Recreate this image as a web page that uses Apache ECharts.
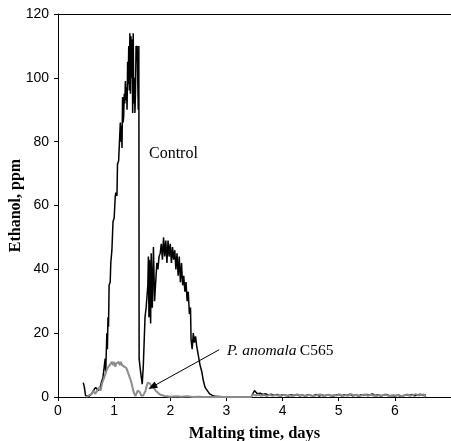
<!DOCTYPE html>
<html>
<head>
<meta charset="utf-8">
<script src="https://cdn.jsdelivr.net/npm/echarts@6/dist/echarts.min.js"></script>
<style>html,body{margin:0;padding:0;background:#fff}#c{width:451px;height:441px}</style>
</head>
<body>
<div id="c"></div>
<script>
// Malting time (days) vs ethanol (ppm)
var xTicks = [0, 1, 2, 3, 4, 5, 6];
var yTicks = [0, 20, 40, 60, 80, 100, 120];

var controlX = [0.45,0.47,0.49,0.52,0.56,0.60,0.63,0.66,0.67,0.69,0.72,0.75,0.78,0.80,0.82,0.84,0.85,0.87,0.88,0.89,0.90,0.91,0.93,0.94,0.96,0.98,1.00,1.02,1.03,1.05,1.06,1.08,1.10,1.11,1.12,1.13,1.14,1.15,1.16,1.17,1.18,1.19,1.20,1.21,1.22,1.23,1.24,1.25,1.26,1.27,1.28,1.29,1.30,1.31,1.32,1.33,1.34,1.35,1.36,1.37,1.38,1.39,1.40,1.41,1.42,1.43,1.44,1.445,1.47,1.50,1.52,1.55,1.57,1.60,1.61,1.62,1.63,1.65,1.66,1.68,1.70,1.72,1.74,1.76,1.78,1.80,1.82,1.84,1.86,1.88,1.90,1.92,1.94,1.96,1.98,2.00,2.02,2.04,2.06,2.08,2.10,2.12,2.14,2.16,2.18,2.20,2.22,2.24,2.26,2.28,2.30,2.32,2.34,2.36,2.37,2.39,2.41,2.43,2.45,2.47,2.50,2.53,2.56,2.59,2.62,2.66,2.70,2.75,2.80,3.00,3.20,3.44,3.45,3.50,3.55,3.60,3.65,3.70,3.75,3.80,3.85,3.90,3.95,4.00,4.05,4.10,4.15,4.20,4.25,4.30,4.35,4.40,4.45,4.50,4.55,4.60,4.65,4.70,4.75,4.80,4.85,4.90,4.95,5.00,5.05,5.10,5.15,5.20,5.25,5.30,5.35,5.40,5.45,5.50,5.55,5.60,5.65,5.70,5.75,5.80,5.85,5.90,5.95,6.00,6.05,6.10,6.15,6.20,6.25,6.30,6.35,6.40,6.45,6.50,6.55];
var controlY = [4.5,3,0.5,0,0.3,1,2,1.5,3,2.5,2,3,5,6,9,12,8,20,15,25,22,35,36,42,46,55,56,63,64,63,73,74,74,86,80,85,78,94,86,88,95,92,99,93,97,90,105,98,110,96,114,95,113,100,112,89,114,92,100,89,95,110,108,110,110,90,110,12,8,4,10,25,28,35,44,25,43,23,45,28,47,30,36,42,40,44,45,48,43,50,44,49,42,49,44,48,42,47,43,46,40,45,38,44,36,42,35,38,33,36,30,33,26,28,18,15,20,17,19,16,13,10,8,5,3,2,1,0.5,0.2,0,0,0,0,2,1,1.2,0.8,1,0.6,0.9,0.5,0.8,0.4,0.7,0.6,0.3,0.7,0.5,0.8,0.4,0.6,0.3,0.7,0.5,0.4,0.8,0.3,0.6,0.4,0.7,0.5,0.3,0.6,0.8,0.4,0.7,0.5,0.9,0.4,0.6,0.3,0.7,0.5,0.8,0.6,1,0.4,0.7,0.3,0.6,0.8,0.4,0.5,0.3,0.6,0.2,0.4,0.7,0.5,0.8,0.4,0.6,0.9,0.5,0.7,0];

var anomalaX = [0.50,0.55,0.60,0.63,0.66,0.70,0.73,0.76,0.78,0.80,0.82,0.84,0.86,0.88,0.90,0.92,0.94,0.96,0.98,1.00,1.02,1.04,1.06,1.08,1.10,1.12,1.14,1.16,1.18,1.20,1.22,1.24,1.26,1.28,1.30,1.32,1.34,1.36,1.38,1.40,1.42,1.44,1.46,1.48,1.50,1.52,1.54,1.56,1.58,1.60,1.62,1.64,1.66,1.68,1.70,1.72,1.74,1.76,1.80,1.84,1.90,1.95,2.00,2.10,2.20,2.30,2.40,2.50,2.60,2.80,3.00,3.20,3.44,3.47,3.52,3.57,3.62,3.67,3.72,3.77,3.82,3.87,3.92,3.97,4.02,4.07,4.12,4.17,4.22,4.27,4.32,4.37,4.42,4.47,4.52,4.57,4.62,4.67,4.72,4.77,4.82,4.87,4.92,4.97,5.02,5.07,5.12,5.17,5.22,5.27,5.32,5.37,5.42,5.47,5.52,5.57,5.62,5.67,5.72,5.77,5.82,5.87,5.92,5.97,6.02,6.07,6.12,6.17,6.22,6.27,6.32,6.37,6.42,6.47,6.52,6.55];
var anomalaY = [0,0.5,1,2,1,2,3,2,4,5,6,7,8,9,8.5,10,9.5,11,10,11,9.5,10.5,10,11,10,11,10,10.5,9.5,10,9,8.5,7,6,5,3.5,2,1,0.3,0.5,2,2.5,1.5,0.5,0.2,0.5,1,2,3.5,4.5,4,4.2,3.5,3.8,3,2.5,2,1.5,1,0.6,0.3,0.2,0.1,0.2,0.1,0.2,0,0.1,0,0,0,0,0,0.8,0.5,0.7,0.4,0.6,0.3,0.7,0.4,0.6,0.5,0.3,0.7,0.4,0.6,0.3,0.5,0.8,0.4,0.6,0.3,0.7,0.5,0.4,0.6,0.8,0.3,0.5,0.7,0.4,0.6,0.5,0.8,0.3,0.6,0.4,0.9,0.5,0.7,0.3,0.6,0.8,0.4,0.7,0.5,0.3,0.6,0.4,0.8,0.5,0.3,0.6,0.4,0.7,0.2,0.5,0.8,0.4,0.6,0.9,0.5,0.7,0.8,0];

function pairs(xs, ys) { return xs.map(function (x, i) { return [x, ys[i]]; }); }

var chart = echarts.init(document.getElementById('c'), null, {renderer: 'canvas'});
var serif = '"Liberation Serif", "Times New Roman", serif';
var sans = '"Liberation Sans", Arial, sans-serif';
chart.setOption({
  animation: false,
  backgroundColor: '#ffffff',
  grid: {left: 58, right: 0, top: 14, bottom: 44, containLabel: false, outerBoundsMode: 'none'},
  xAxis: [{
    type: 'value', min: 0, max: 7, interval: 1,
    name: 'Malting time, days', nameLocation: 'middle', nameGap: 28, nameMoveOverlap: false,
    nameTextStyle: {fontFamily: serif, fontWeight: 'bold', fontSize: 16.5, color: '#000', verticalAlign: 'top'},
    axisLine: {lineStyle: {color: '#000', width: 1}},
    axisTick: {show: true, length: 4, lineStyle: {color: '#000'}},
    axisLabel: {fontFamily: sans, fontSize: 14, color: '#000', margin: 7,
      formatter: function (v) { return xTicks.indexOf(v) >= 0 ? String(v) : ''; }},
    splitLine: {show: false}
  }, {
    type: 'value', min: 0, max: 7, position: 'top',
    axisLine: {show: true, onZero: false, lineStyle: {color: '#000', width: 1}},
    axisTick: {show: false}, axisLabel: {show: false}, splitLine: {show: false}
  }],
  yAxis: {
    type: 'value', min: 0, max: 120, interval: 20,
    name: 'Ethanol, ppm', nameLocation: 'middle', nameGap: 34, nameMoveOverlap: false,
    nameTextStyle: {fontFamily: serif, fontWeight: 'bold', fontSize: 16, color: '#000'},
    axisLine: {show: true, lineStyle: {color: '#000', width: 1}},
    axisTick: {show: true, length: 4, lineStyle: {color: '#000'}},
    axisLabel: {fontFamily: sans, fontSize: 14, color: '#000', margin: 9,
      formatter: function (v) { return yTicks.indexOf(v) >= 0 ? String(v) : ''; }},
    splitLine: {show: false}
  },
  series: [{
    name: 'P. anomala C565', type: 'line', data: pairs(anomalaX, anomalaY),
    showSymbol: false, symbol: 'none', z: 3,
    lineStyle: {color: '#8c8c8c', width: 2}
  }, {
    name: 'Control', type: 'line', data: pairs(controlX, controlY),
    showSymbol: false, symbol: 'none', z: 2,
    lineStyle: {color: '#000', width: 1.5},
    markLine: {
      silent: true, symbol: ['none', 'triangle'], symbolSize: [7, 9],
      lineStyle: {color: '#000', width: 1, type: 'solid'},
      label: {show: false},
      data: [[{coord: [2.87, 14.8]}, {coord: [1.68, 3.2]}]]
    }
  }],
  graphic: [{
    type: 'text', left: 149, top: 146,
    style: {text: 'Control', font: '16px ' + serif, fill: '#000'}
  }, {
    type: 'text', left: 227, top: 343,
    style: {
      rich: {
        i: {fontFamily: serif, fontStyle: 'italic', fontSize: 15.5, fill: '#000'},
        n: {fontFamily: serif, fontSize: 15.5, fill: '#000'}
      },
      text: '{i|P. anomala} {n|C565}'
    }
  }]
});
</script>
</body>
</html>
